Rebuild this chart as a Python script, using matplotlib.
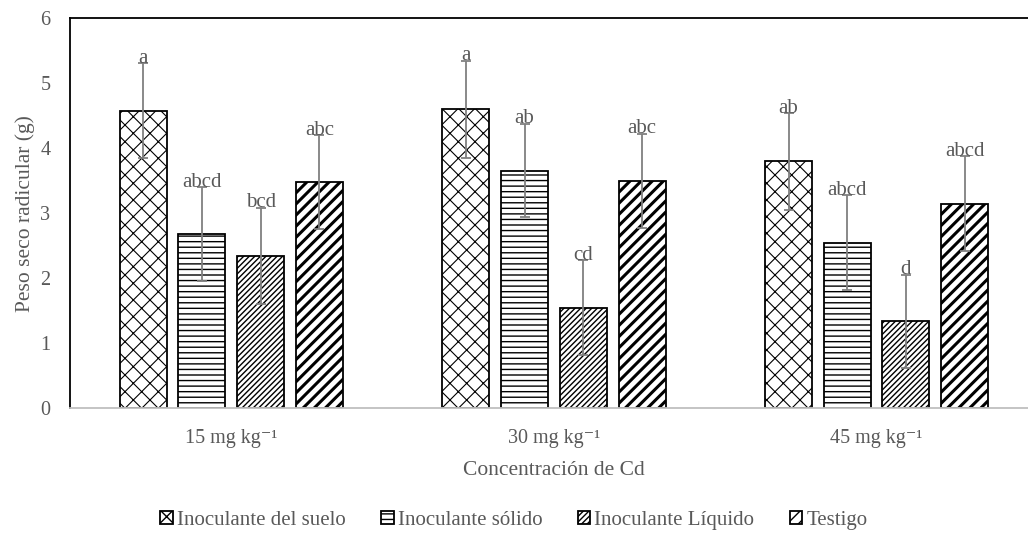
import matplotlib as mpl
mpl.use('Agg')
import matplotlib.pyplot as plt
import numpy as np

# datos
grupos = ['15 mg kg\u207b\u00b9', '30 mg kg\u207b\u00b9', '45 mg kg\u207b\u00b9']
series = ['Inoculante del suelo', 'Inoculante s\u00f3lido', 'Inoculante L\u00edquido', 'Testigo']
valores = [
    [4.58, 4.60, 3.80],
    [2.68, 3.66, 2.55],
    [2.35, 1.55, 1.34],
    [3.48, 3.50, 3.15],
]
errores = [
    [0.73, 0.75, 0.74],
    [0.72, 0.72, 0.73],
    [0.74, 0.73, 0.72],
    [0.72, 0.72, 0.73],
]
letras = [
    ['a', 'a', 'ab'],
    ['abcd', 'ab', 'abcd'],
    ['bcd', 'cd', 'd'],
    ['abc', 'abc', 'abcd'],
]

plt.rcParams['font.family'] = ['Liberation Serif', 'DejaVu Serif']
plt.rcParams['hatch.linewidth'] = 1.0
gris = '#595959'

fig = plt.figure(figsize=(10.28, 5.41), dpi=100)
ax = fig.add_axes([0.068, 0.245, 0.9417, 0.721])

hatches = ['xx', '---', '//////', '///']
hlw = [0.8, 1.0, 1.0, 2.2]
ancho = 0.1456
paso = 0.182
x = np.arange(len(grupos))
for i, s in enumerate(series):
    pos = x + (i - 1.5) * paso
    bars = ax.bar(pos, valores[i], ancho, color='white', edgecolor='black',
                  linewidth=1.3, hatch=hatches[i], label=s, zorder=2)
    for b in bars:
        try:
            b.set_hatch_linewidth(hlw[i])
        except AttributeError:
            pass
    ax.errorbar(pos, valores[i], yerr=errores[i], fmt='none', ecolor='#808080',
                elinewidth=1.3, capsize=3.3, capthick=1.3, zorder=3)
    for j in range(len(grupos)):
        ax.text(pos[j], valores[i][j] + errores[i][j] + 0.01, letras[i][j],
                ha='center', va='baseline', fontsize=15, color=gris, zorder=4)

ax.set_xlim(-0.5, 2.5)
ax.set_ylim(0, 6)
ax.set_yticks(range(7))
ax.set_xticks(x)
ax.set_xticklabels(grupos)
ax.tick_params(axis='both', length=0, labelsize=14.5, labelcolor=gris)
ax.tick_params(axis='x', pad=15)
ax.tick_params(axis='y', pad=14)
ax.spines['right'].set_visible(False)
ax.spines['top'].set_color('black')
ax.spines['top'].set_linewidth(1.3)
ax.spines['left'].set_color('black')
ax.spines['left'].set_linewidth(1.3)
ax.spines['bottom'].set_color('#bfbfbf')
ax.spines['bottom'].set_linewidth(1.3)

ax.set_xlabel('Concentraci\u00f3n de Cd', fontsize=15.5, color=gris, labelpad=9)
ax.set_ylabel('Peso seco radicular (g)', fontsize=15.5, color=gris, labelpad=4)

leg = fig.legend(loc='lower center', bbox_to_anchor=(0.5, -0.014), ncol=4, frameon=False,
                 fontsize=15, handlelength=0.6, handleheight=0.6, handletextpad=0.2,
                 columnspacing=1.7)
for t in leg.get_texts():
    t.set_color(gris)

plt.savefig('out.png', dpi=100)
